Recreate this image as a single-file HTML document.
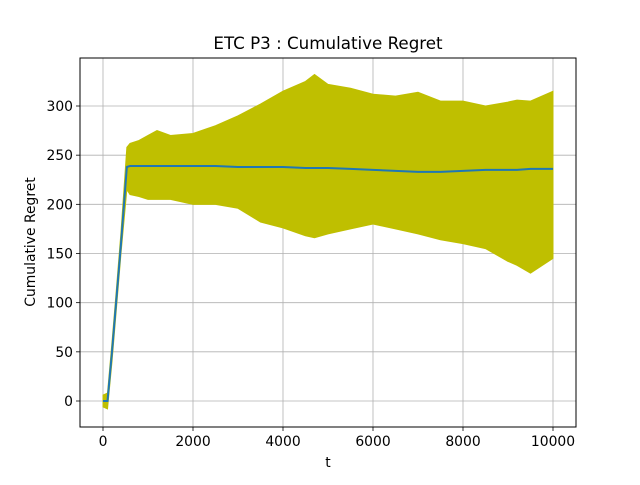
<!DOCTYPE html>
<html><head><meta charset="utf-8"><style>
html,body{margin:0;padding:0;background:#fff;}
svg text{font-family:"DejaVu Sans","Liberation Sans",sans-serif;fill:#000;}
</style></head><body>
<svg id="chart" width="640" height="480" viewBox="0 0 640 480">
<rect width="640" height="480" fill="#fff"/>
<g id="grid"></g>
<g id="band"></g>
<g id="line"></g>
<rect x="80" y="58" width="496" height="369" fill="none" stroke="#000" stroke-width="1"/>
<g id="ticks"></g>
<text x="328" y="49" text-anchor="middle" font-size="16.7">ETC P3 : Cumulative Regret</text>
<text x="328" y="467" text-anchor="middle" font-size="13.9">t</text>
<text x="35" y="242" text-anchor="middle" font-size="13.9" transform="rotate(-90 35 242)">Cumulative Regret</text>
</svg>
<script>
const tVals=[0,100,200,300,400,530,600,800,1000,1200,1500,2000,2500,3000,3500,4000,4500,4700,5000,5500,6000,6500,7000,7500,8000,8500,9000,9200,9500,10000];
const meanVals=[0,0,50,105,160,238,239,239,239,239,239,239,239,238,238,238,237,237,237,236,235,234,233,233,234,235,235,235,236,236];
const upperVals=[6,8,60,115,172,258,262,265,270,275,270,272,280,290,302,315,325,332,322,318,312,310,314,305,305,300,304,306,305,315];
const lowerVals=[-6,-8,40,95,150,215,210,208,205,205,205,200,200,196,182,176,168,166,170,175,180,175,170,164,160,155,142,138,130,145];
const xTicks=[0,2000,4000,6000,8000,10000];
const yTicks=[0,50,100,150,200,250,300];
const NS='http://www.w3.org/2000/svg';
const X=t=>103+(t)*0.045;
const Y=v=>401-v*0.98333;
function mk(tag,attrs,parent){const e=document.createElementNS(NS,tag);for(const k in attrs)e.setAttribute(k,attrs[k]);document.getElementById(parent).appendChild(e);return e;}
xTicks.forEach(t=>{
 const g=mk('line',{x1:X(t),x2:X(t),y1:58,y2:427,stroke:'#b0b0b0','stroke-width':0.8},'grid');
 
 
 const tk=mk('line',{x1:X(t),x2:X(t),y1:427,y2:431,stroke:'#000','stroke-width':0.8},'ticks');
 
 
 const tx=mk('text',{x:X(t),y:446,'text-anchor':'middle','font-size':13.9},'ticks');
 tx.textContent=t;
 
 
});
yTicks.forEach(v=>{
 const g=mk('line',{x1:80,x2:576,y1:Y(v),y2:Y(v),stroke:'#b0b0b0','stroke-width':0.8},'grid');
 
 
 const tk=mk('line',{x1:76,x2:80,y1:Y(v),y2:Y(v),stroke:'#000','stroke-width':0.8},'ticks');
 
 
 const tx=mk('text',{x:73,y:Y(v)+5,'text-anchor':'end','font-size':13.9},'ticks');
 tx.textContent=v;
 
 
});
let d='M'+tVals.map((t,i)=>X(t)+','+Y(upperVals[i])).join('L');
for(let i=tVals.length-1;i>=0;i--)d+='L'+X(tVals[i])+','+Y(lowerVals[i]);
const band=mk('path',{d:d+'Z',fill:'#bfbf00',stroke:'#bfbf00','stroke-width':1},'band');


const ln=mk('path',{d:'M'+tVals.map((t,i)=>X(t)+','+Y(meanVals[i])).join('L'),fill:'none',stroke:'#1f77b4','stroke-width':2},'line');


</script>
</body></html>
